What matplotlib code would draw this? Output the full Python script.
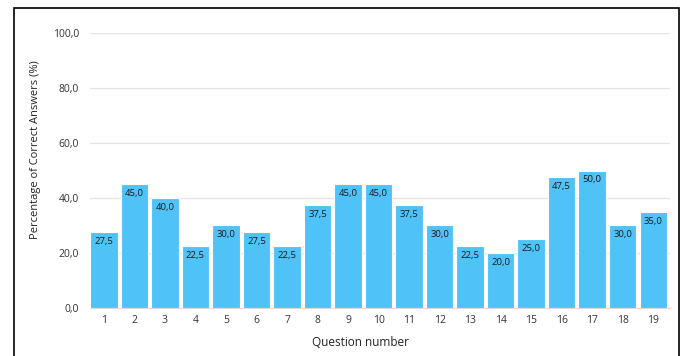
import matplotlib
matplotlib.use("Agg")
import matplotlib.pyplot as plt
from matplotlib.patches import Rectangle

questions = list(range(1, 20))
percent = [27.5, 45.0, 40.0, 22.5, 30.0, 27.5, 22.5, 37.5, 45.0, 45.0,
           37.5, 30.0, 22.5, 20.0, 25.0, 47.5, 50.0, 30.0, 35.0]
yticks = [0, 20, 40, 60, 80, 100]

plt.rcParams['font.family'] = ['Open Sans', 'DejaVu Sans']

fig = plt.figure(figsize=(6.83, 3.56), dpi=100)
ax = fig.add_axes([0.132, 0.135, 0.849, 0.772])

bars = ax.bar(questions, percent, width=0.9, color="#4FC3F7",
              edgecolor="white", linewidth=0.8, zorder=3)
for b, v in zip(bars, percent):
    ax.text(b.get_x() + b.get_width() / 2, v - 1.8, f"{v:.1f}".replace(".", ","),
            ha="center", va="top", fontsize=6.8, color="#1a1a1a", zorder=4)

ax.set_ylim(0, 100)
ax.set_xlim(0.55, 19.55)
ax.set_yticks(yticks)
ax.set_yticklabels([f"{t:.1f}".replace(".", ",") for t in yticks])
ax.set_xticks(questions)
ax.tick_params(axis="both", length=0, labelsize=7.5, colors="#333333")
ax.tick_params(axis="x", pad=5)
ax.tick_params(axis="y", pad=8)
ax.grid(axis="y", color="#e3e3e3", linewidth=0.9, zorder=0)
for s in ["top", "right", "left"]:
    ax.spines[s].set_visible(False)
ax.spines["bottom"].set_color("#dddddd")

ax.set_xlabel("Question number", fontsize=8.5, color="#222222")
ax.set_ylabel("Percentage of Correct Answers (%)", fontsize=8, color="#222222")
ax.xaxis.set_label_coords(0.466, -0.127)
ax.yaxis.set_label_coords(-0.095, 0.575)
ax.xaxis.label.set_va("center")
ax.yaxis.label.set_va("center")

fig.patches.append(Rectangle((0.0205, -0.02), 0.9735, 0.998, transform=fig.transFigure,
                             fill=False, edgecolor="black", linewidth=1.2))

fig.savefig("out.png", dpi=100)
